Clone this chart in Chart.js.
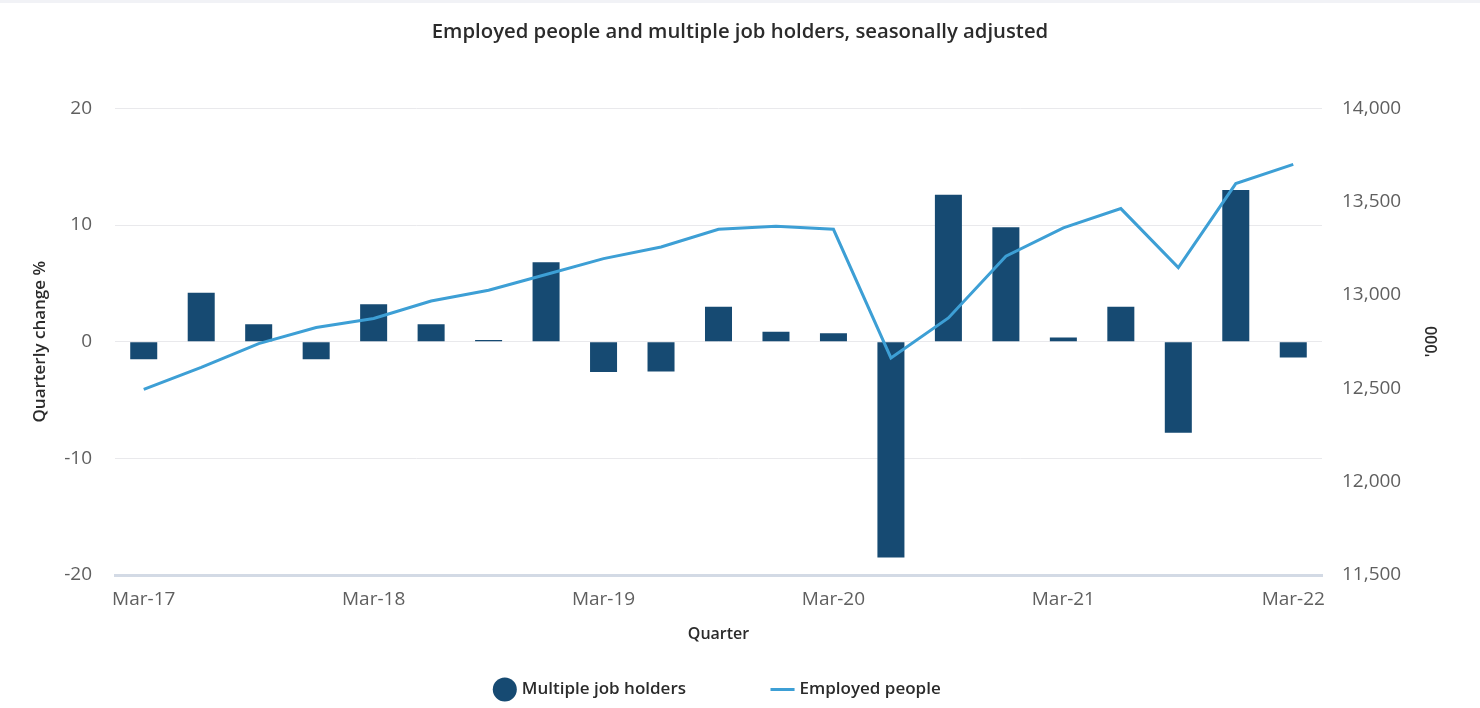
<!DOCTYPE html>
<html>
<head>
<meta charset="utf-8">
<title>Employed people and multiple job holders</title>
<script src="https://cdn.jsdelivr.net/npm/chart.js@4.4.1/dist/chart.umd.min.js"></script>
<style>
  html, body { margin: 0; padding: 0; background: #ffffff; }
  #wrap { position: relative; width: 1480px; height: 708px; }
  #strip { position: absolute; left: 0; top: 0; width: 1480px; height: 3px; background: #f1f2f6; }
  canvas { display: block; }
</style>
</head>
<body>
<div id="wrap">
  <canvas id="chart" width="1480" height="708"></canvas>
  <div id="strip"></div>
</div>
<script>
// Quarters, March 2017 to March 2022
const quarters = [
  'Mar-17', 'Jun-17', 'Sep-17', 'Dec-17',
  'Mar-18', 'Jun-18', 'Sep-18', 'Dec-18',
  'Mar-19', 'Jun-19', 'Sep-19', 'Dec-19',
  'Mar-20', 'Jun-20', 'Sep-20', 'Dec-20',
  'Mar-21', 'Jun-21', 'Sep-21', 'Dec-21',
  'Mar-22'
];

// Multiple job holders, quarterly change (%)
const multipleJobHolders = [
  -1.5, 4.2, 1.5, -1.5,
  3.2, 1.5, 0.15, 6.8,
  -2.6, -2.55, 3.0, 0.85,
  0.72, -18.5, 12.6, 9.8,
  0.35, 3.0, -7.8, 13.0,
  -1.35
];

// Employed people ('000)
const employedPeople = [
  12494, 12612, 12740, 12826,
  12874, 12968, 13026, 13110,
  13195, 13257, 13352, 13368,
  13352, 12663, 12877, 13208,
  13360, 13463, 13147, 13597,
  13700
];

// Axis ranges and tick steps
const leftAxisRange = [-20, 20];
const leftAxisStep = 10;
const rightAxisRange = [11500, 14000];
const rightAxisStep = 500;
const rightAxisTitle = "'000";

const BAR_COLOR = '#164a72';
const LINE_COLOR = '#3d9fd5';
const TICK_COLOR = '#5f5f5f';
const LABEL_COLOR = '#2b2b2b';
const FONT = '"Open Sans", "Noto Sans", sans-serif';

// Legend items sit far apart, so the legend box reaches up past the x-axis
// title; the x scale keeps a slim box and places its labels and title below it.
const LEGEND_GAP = 88;

// Right-hand axis title, written bottom-to-top like the left one
const rightTitlePlugin = {
  id: 'rightTitle',
  afterDraw(chart) {
    const c = chart.ctx;
    c.save();
    c.translate(1432, (chart.chartArea.top + chart.chartArea.bottom) / 2);
    c.rotate(-Math.PI / 2);
    c.font = '600 16px ' + FONT;
    c.fillStyle = LABEL_COLOR;
    c.textAlign = 'center';
    c.textBaseline = 'middle';
    c.fillText(rightAxisTitle, 0, 0);
    c.restore();
  }
};

const ctx = document.getElementById('chart').getContext('2d');

new Chart(ctx, {
  data: {
    labels: quarters,
    datasets: [
      {
        type: 'line',
        label: 'Employed people',
        data: employedPeople,
        yAxisID: 'yRight',
        borderColor: LINE_COLOR,
        backgroundColor: LINE_COLOR,
        borderWidth: 3,
        pointRadius: 0,
        pointHoverRadius: 0,
        pointStyle: 'line',
        tension: 0,
        order: 0
      },
      {
        type: 'bar',
        label: 'Multiple job holders',
        data: multipleJobHolders,
        yAxisID: 'yLeft',
        backgroundColor: BAR_COLOR,
        borderColor: BAR_COLOR,
        borderWidth: 0,
        barPercentage: 0.94,
        categoryPercentage: 0.5,
        pointStyle: 'circle',
        order: 1
      }
    ]
  },
  plugins: [rightTitlePlugin],
  options: {
    responsive: false,
    animation: false,
    maintainAspectRatio: false,
    layout: { padding: { left: 0, right: 0, top: 0, bottom: 0 } },
    plugins: {
      title: {
        display: true,
        text: 'Employed people and multiple job holders, seasonally adjusted',
        color: LABEL_COLOR,
        font: { family: FONT, size: 20.3, weight: '600' },
        padding: { top: 20, bottom: 64 }
      },
      legend: {
        position: 'bottom',
        fullSize: false,
        reverse: true,
        labels: {
          usePointStyle: true,
          padding: LEGEND_GAP,
          color: LABEL_COLOR,
          font: { family: FONT, size: 17, weight: '600' },
          generateLabels(chart) {
            const items = Chart.defaults.plugins.legend.labels.generateLabels(chart);
            items.forEach(item => {
              const ds = chart.data.datasets[item.datasetIndex];
              item.pointStyle = ds.pointStyle;
              item.fillStyle = ds.backgroundColor;
              item.strokeStyle = ds.borderColor;
              item.lineWidth = ds.type === 'line' ? 3 : 0;
            });
            return items;
          }
        }
      },
      tooltip: { enabled: false }
    },
    scales: {
      x: {
        type: 'category',
        offset: true,
        grid: { display: false, drawTicks: false },
        border: { display: true, color: '#d3dae5', width: 3 },
        ticks: {
          color: TICK_COLOR,
          font: { family: FONT, size: 19 },
          mirror: true,
          padding: -36,
          maxRotation: 0,
          autoSkip: false,
          callback(value, index) {
            return index % 4 === 0 ? quarters[index] : '';
          }
        },
        title: {
          display: true,
          text: 'Quarter',
          color: LABEL_COLOR,
          font: { family: FONT, size: 16, weight: '600' },
          padding: { top: 0, bottom: -51 }
        },
        afterFit(scale) { scale.height = 18; }
      },
      yLeft: {
        type: 'linear',
        position: 'left',
        min: leftAxisRange[0],
        max: leftAxisRange[1],
        grid: { color: '#e9e9ec', lineWidth: 1, drawTicks: false },
        border: { display: false },
        ticks: {
          stepSize: leftAxisStep,
          color: TICK_COLOR,
          font: { family: FONT, size: 19 },
          padding: 23
        },
        title: {
          display: true,
          text: 'Quarterly change %',
          color: LABEL_COLOR,
          font: { family: FONT, size: 17, weight: '600' },
          padding: { top: 30, bottom: 0 }
        },
        afterFit(scale) { scale.width = 115; }
      },
      yRight: {
        type: 'linear',
        position: 'right',
        min: rightAxisRange[0],
        max: rightAxisRange[1],
        grid: { display: false, drawTicks: false },
        border: { display: false },
        ticks: {
          stepSize: rightAxisStep,
          color: TICK_COLOR,
          font: { family: FONT, size: 19 },
          padding: 20,
          callback(value) { return value.toLocaleString('en-US'); }
        },
        title: { display: false },
        afterFit(scale) { scale.width = 158; }
      }
    }
  }
});
</script>
</body>
</html>
